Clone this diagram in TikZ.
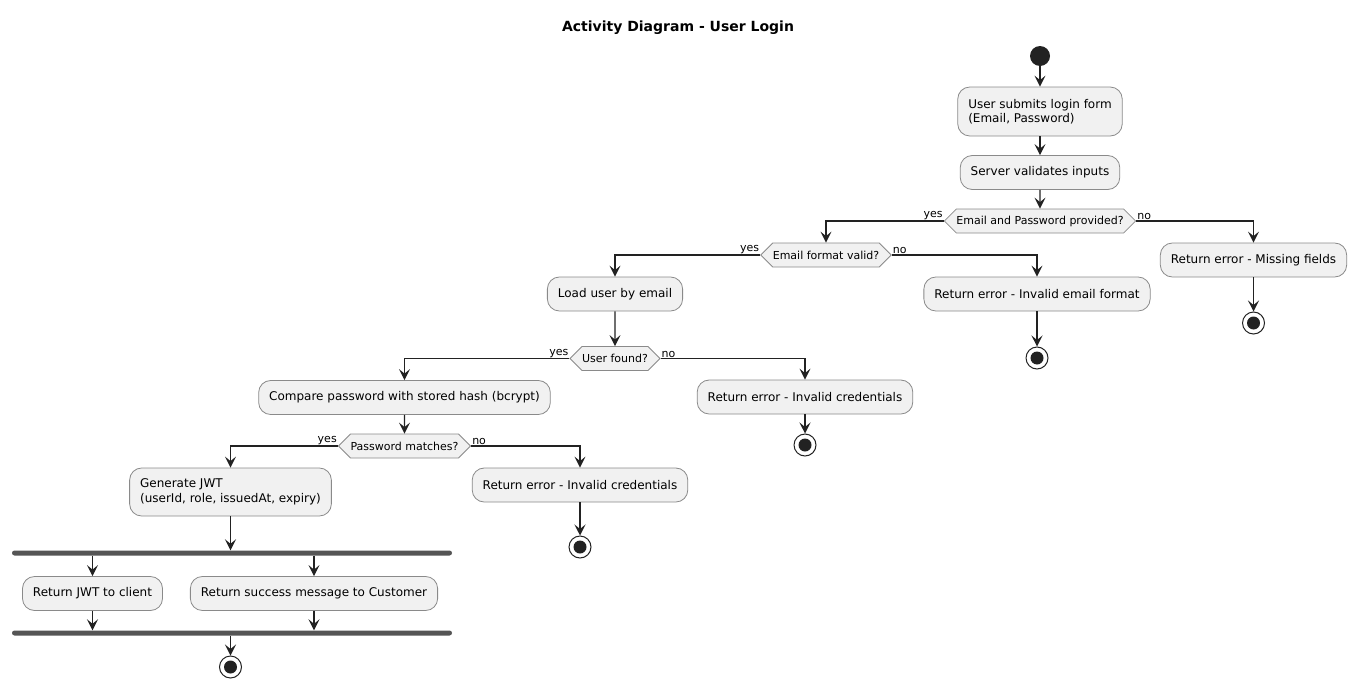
\documentclass[tikz,border=0pt]{standalone}
\usepackage{fontspec}
\setmainfont{DejaVu Sans}
\usetikzlibrary{arrows.meta,shapes.symbols}
\definecolor{boxfill}{HTML}{F1F1F1}
\definecolor{boxline}{HTML}{8A8A8A}
\definecolor{dark}{HTML}{222222}
\definecolor{barcol}{HTML}{555555}
\begin{document}
\begin{tikzpicture}[x=1pt,y=-1pt,
  act/.style={rectangle, rounded corners=12pt, draw=boxline, fill=boxfill, line width=0.8pt, minimum height=34pt, inner xsep=10.5pt, inner ysep=4pt, font=\fontsize{12}{14.5}\selectfont, align=left, text=black},
  dec/.style={signal, signal to=west and east, signal pointer angle=90, draw=boxline, fill=boxfill, line width=0.8pt, minimum height=24pt, inner xsep=0pt, inner ysep=2pt, font=\fontsize{11}{13}\selectfont},
  lbl/.style={font=\fontsize{11}{13}\selectfont, inner sep=1pt},
  startn/.style={circle, fill=dark, minimum size=20pt, inner sep=0pt},
  stopn/.style={circle, draw=dark, line width=1pt, fill=white, minimum size=22pt, inner sep=0pt, path picture={\fill[dark] (path picture bounding box.center) circle (6.5pt);}},
  barn/.style={rectangle, fill=barcol, rounded corners=2.5pt, minimum height=5pt, minimum width=440pt, inner sep=0pt},
  arr/.style={draw=dark, line width=1.2pt, -{Stealth[length=11pt,width=11pt,inset=4.5pt]}}
]
\useasboundingbox (0,0) rectangle (1357,688);

\node[font=\bfseries\fontsize{14}{16}\selectfont] (title) at (678,28) {Activity Diagram - User Login};

\node[startn] (start) at (1040,56) {};
\node[act, minimum height=49pt] (b1) at (1040,111.5) {User submits login form\\(Email, Password)};
\node[act] (b2) at (1040,172.5) {Server validates inputs};
\node[dec] (d1) at (1040,221) {Email and Password provided?};
\node[act] (e1) at (1253.5,260) {Return error - Missing fields};
\node[stopn] (end1) at (1253.5,323) {};

\node[dec] (d2) at (826,255) {Email format valid?};
\node[act] (e2) at (1037,294) {Return error - Invalid email format};
\node[stopn] (end2) at (1037,358) {};

\node[act] (b3) at (615,294) {Load user by email};
\node[dec] (d3) at (615,358.5) {User found?};
\node[act] (e3) at (805,397) {Return error - Invalid credentials};
\node[stopn] (end3) at (805,445) {};

\node[act] (b4) at (404.5,397.5) {Compare password with stored hash (bcrypt)};
\node[dec] (d4) at (404.5,446) {Password matches?};
\node[act] (e4) at (580,485) {Return error - Invalid credentials};
\node[stopn] (end4) at (580,547) {};

\node[act, minimum height=48pt] (b5) at (230.5,492) {Generate JWT\\(userId, role, issuedAt, expiry)};
\node[barn] (fork) at (232,553) {};
\node[act] (r1) at (92.5,593.5) {Return JWT to client};
\node[act] (r2) at (314,593.5) {Return success message to Customer};
\node[barn] (join) at (232,633) {};
\node[stopn] (end5) at (230.5,667) {};

% labels
\node[lbl, anchor=south east] (l1y) at (d1.west) {yes};
\node[lbl, anchor=south west] (l1n) at (d1.east) {no};
\node[lbl, anchor=south east] (l2y) at (d2.west) {yes};
\node[lbl, anchor=south west] (l2n) at (d2.east) {no};
\node[lbl, anchor=south east] (l3y) at (d3.west) {yes};
\node[lbl, anchor=south west] (l3n) at (d3.east) {no};
\node[lbl, anchor=south east] (l4y) at (d4.west) {yes};
\node[lbl, anchor=south west] (l4n) at (d4.east) {no};

% connectors
\draw[arr] (start) -- (b1);
\draw[arr] (b1) -- (b2);
\draw[arr] (b2) -- (d1);
\draw[arr] (d1.east) -| (e1.north);
\draw[arr] (e1) -- (end1);
\draw[arr] (d1.west) -| (d2.north);
\draw[arr] (d2.east) -| (e2.north);
\draw[arr] (e2) -- (end2);
\draw[arr] (d2.west) -| (b3.north);
\draw[arr] (b3) -- (d3);
\draw[arr] (d3.east) -| (e3.north);
\draw[arr] (e3) -- (end3);
\draw[arr] (d3.west) -| (b4.north);
\draw[arr] (b4) -- (d4);
\draw[arr] (d4.east) -| (e4.north);
\draw[arr] (e4) -- (end4);
\draw[arr] (d4.west) -| (b5.north);
\draw[arr] (b5.south) -- (b5.south |- fork.north);
\draw[arr] (r1 |- fork.south) -- (r1.north);
\draw[arr] (r2 |- fork.south) -- (r2.north);
\draw[arr] (r1.south) -- (r1.south |- join.north);
\draw[arr] (r2.south) -- (r2.south |- join.north);
\draw[arr] (end5 |- join.south) -- (end5.north);
\end{tikzpicture}
\end{document}
